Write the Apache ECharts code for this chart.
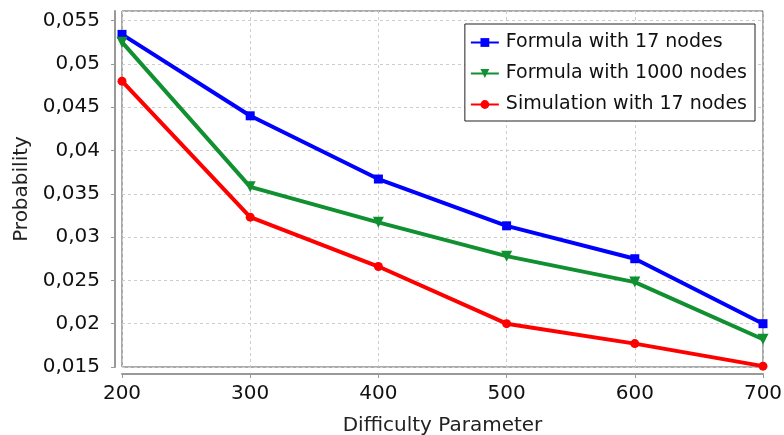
<!DOCTYPE html>
<html><head><meta charset="utf-8">
<script src="https://cdn.jsdelivr.net/npm/echarts@6/dist/echarts.min.js"></script>
<style>html,body{margin:0;padding:0;background:#fff}#c{width:784px;height:435px}</style>
</head><body><div id="c"></div>
<script>
var xValues = [200, 300, 400, 500, 600, 700];
var formula17 = [0.0534, 0.0440, 0.0367, 0.0313, 0.0275, 0.0200];
var formula1000 = [0.0525, 0.0358, 0.0317, 0.0278, 0.0248, 0.0182];
var simulation17 = [0.0480, 0.0323, 0.0266, 0.0200, 0.0177, 0.0151];
var seriesNames = ['Formula with 17 nodes', 'Formula with 1000 nodes', 'Simulation with 17 nodes'];
var xTicks = [200, 300, 400, 500, 600, 700];
var yTicks = [0.015, 0.02, 0.025, 0.03, 0.035, 0.04, 0.045, 0.05, 0.055];

function pairs(ys){ return xValues.map(function(x,i){ return [x, ys[i]]; }); }
var font = 'DejaVu Sans';
var chart = echarts.init(document.getElementById('c'));
function mk(name, data, color, symbol, size, rot){
  return { name: name, type: 'line', data: pairs(data), symbol: symbol, symbolSize: size, symbolRotate: rot || 0,
    itemStyle: {color: color}, lineStyle: {color: color, width: 4}, animation: false };
}
chart.setOption({
  animation: false,
  grid: { left: 122, right: 21, top: 11, bottom: 68, containLabel: false, outerBoundsMode: 'none',
    show: true, borderColor: '#555', borderWidth: 1, backgroundColor: '#fff' },
  legend: {
    orient: 'vertical', right: 29, top: 24,
    data: seriesNames,
    borderColor: '#222', borderWidth: 1, backgroundColor: '#fff',
    padding: [9, 8, 7, 5], itemGap: 12, itemWidth: 28, itemHeight: 11,
    textStyle: { fontFamily: font, fontSize: 19, color: '#111', padding: [0, 0, 0, 2] }
  },
  xAxis: {
    type: 'value', min: 200, max: 700, interval: 100, offset: 7,
    name: 'Difficulty Parameter', nameLocation: 'middle', nameGap: 42,
    nameTextStyle: { fontFamily: font, fontSize: 20, color: '#222' },
    axisLine: { lineStyle: { color: '#999', width: 2 } },
    axisTick: { show: true, length: 4, lineStyle: { color: '#999' } },
    axisLabel: { fontFamily: font, fontSize: 20, color: '#111', margin: 10,
      formatter: function(v){ return xTicks.indexOf(v) >= 0 ? String(v) : ''; } },
    splitLine: { show: true, lineStyle: { color: '#ccc', type: [3, 3] } }
  },
  yAxis: {
    type: 'value', min: 0.015, max: 0.0561, interval: 0.005, offset: 7,
    name: 'Probability', nameLocation: 'middle', nameGap: 82,
    nameTextStyle: { fontFamily: font, fontSize: 20, color: '#222' },
    axisLine: { show: true, lineStyle: { color: '#999', width: 2 } },
    axisTick: { show: true, length: 4, lineStyle: { color: '#999' } },
    axisLabel: { fontFamily: font, fontSize: 20, color: '#111', margin: 15, showMaxLabel: false,
      formatter: function(v){
        var r = +v.toFixed(3);
        for (var i=0;i<yTicks.length;i++){ if (Math.abs(yTicks[i]-r) < 1e-9 && Math.abs(v-r)<1e-6) return String(r).replace('.', ','); }
        return '';
      } },
    splitLine: { show: true, lineStyle: { color: '#ccc', type: [3, 3] } }
  },
  series: [
    mk(seriesNames[0], formula17, '#0000ff', 'rect', 9),
    mk(seriesNames[1], formula1000, '#109030', 'triangle', 11, 180),
    mk(seriesNames[2], simulation17, '#ff0000', 'circle', 9)
  ]
});
</script></body></html>
